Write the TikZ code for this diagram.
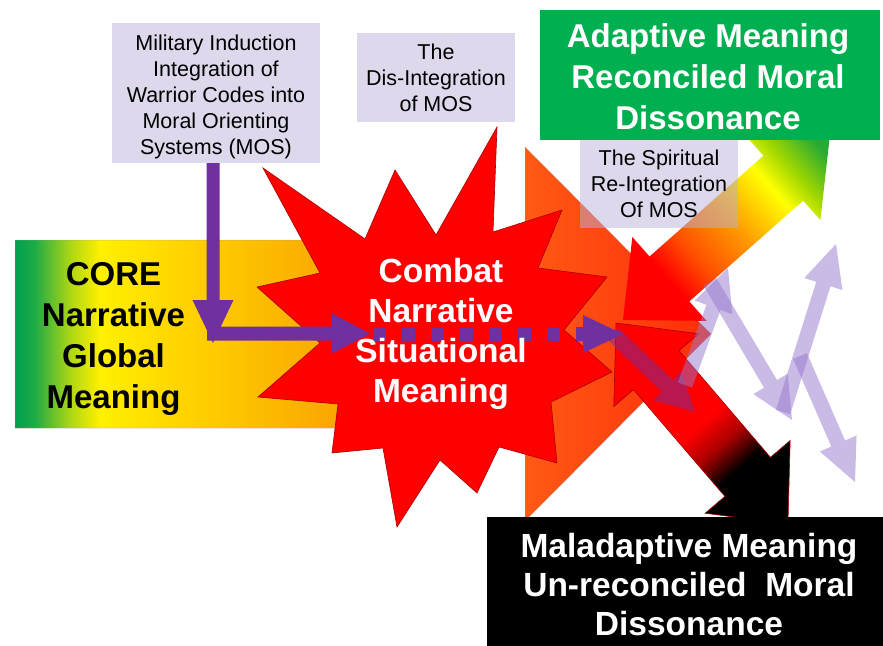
\documentclass[tikz,border=0pt]{standalone}
\usepackage{fontspec}
\setmainfont{Liberation Sans}
\usetikzlibrary{calc}

% palette
\definecolor{boxlav}{RGB}{221,216,235}
\definecolor{spirlav}{RGB}{187,177,215}
\definecolor{adgreen}{RGB}{0,176,80}
\definecolor{mospurple}{RGB}{112,48,160}
\definecolor{lavarrow}{RGB}{150,120,205}
\definecolor{starred}{RGB}{255,0,0}
\definecolor{staredge}{RGB}{170,0,0}

% stops of the core arrow (green -> yellow -> orange -> red)
\definecolor{cgA}{RGB}{0,160,80}
\definecolor{cgB}{RGB}{30,170,70}
\definecolor{cgC}{RGB}{175,215,20}
\definecolor{cgD}{RGB}{255,240,0}
\definecolor{cgE}{RGB}{255,212,0}
\definecolor{cgF}{RGB}{250,168,0}
\definecolor{cgG}{RGB}{250,128,10}
\definecolor{cgH}{RGB}{255,90,20}
\definecolor{cgI}{RGB}{255,45,10}
% stops of the adaptive arrow (red -> yellow -> green)
\definecolor{adA}{RGB}{255,0,0}
\definecolor{adB}{RGB}{255,80,0}
\definecolor{adC}{RGB}{255,150,0}
\definecolor{adD}{RGB}{255,255,0}
\definecolor{adE}{RGB}{160,215,0}
\definecolor{adF}{RGB}{40,170,50}
% stops of the maladaptive arrow (red -> black)
\definecolor{mlA}{RGB}{255,0,0}
\definecolor{mlB}{RGB}{170,0,0}
\definecolor{mlC}{RGB}{0,0,0}

\pgfdeclarehorizontalshading{coreshade}{100bp}{color(0bp)=(cgA); color(25bp)=(cgA); color(26.4bp)=(cgB); color(29bp)=(cgC); color(31.1bp)=(cgD); color(36.9bp)=(cgE); color(47.6bp)=(cgF); color(57.7bp)=(cgG); color(61.6bp)=(cgH); color(75bp)=(cgI); color(100bp)=(cgI)}
\pgfdeclarehorizontalshading{adaptshade}{100bp}{color(0bp)=(adA); color(36bp)=(adA); color(42.5bp)=(adB); color(51bp)=(adC); color(61bp)=(adD); color(66bp)=(adE); color(72.5bp)=(adF); color(100bp)=(adF)}
\pgfdeclarehorizontalshading{malshade}{100bp}{color(0bp)=(mlA); color(50bp)=(mlA); color(55.5bp)=(mlB); color(61bp)=(mlC); color(100bp)=(mlC)}

% straight block arrow: style, tail, tip, shaft half width, head half width, head length
\newcommand\blkarrow[6]{%
  \path coordinate (ba-h) at ($(#3)!#6!(#2)$);
  \fill[#1] ($(#2)!#4!90:(#3)$) -- ($(ba-h)!#4!90:(#3)$) -- ($(ba-h)!#5!90:(#3)$)
    -- (#3) -- ($(ba-h)!#5!-90:(#3)$) -- ($(ba-h)!#4!-90:(#3)$) -- ($(#2)!#4!-90:(#3)$) -- cycle;}

\tikzset{
  lavbox/.style={fill=boxlav, inner sep=0pt},
  boxtext/.style={inner sep=0pt, align=center, text=black, font=\fontsize{21.5}{26}\selectfont},
  bigtext/.style={inner sep=0pt, align=center, font=\bfseries\fontsize{33}{41}\selectfont},
  lavpointer/.style={fill=lavarrow, fill opacity=0.5},
}

\begin{document}
\begin{tikzpicture}[x=1pt,y=-1pt]
\useasboundingbox (0,0) rectangle (883,645);
\begin{scope}
\clip (0,0) rectangle (883,645);

% core narrative arrow
\shadedraw[shading=coreshade, draw=black!40, draw opacity=0.5, line width=0.5pt]
  (15,240) -- (525,240) -- (525,147) -- (711,334) -- (525,521) -- (525,428) -- (15,428) -- cycle;

% combat starburst
\filldraw[fill=starred, draw=staredge, line width=0.6pt]
  (612,372) -- (551,402) -- (557,463) -- (499,447) -- (477,493) -- (440,460)
  -- (397,527) -- (383,448) -- (332,453) -- (338,404) -- (258,397) -- (320,343)
  -- (257,287) -- (320,273) -- (263,168) -- (365,239) -- (395,170) -- (436,235)
  -- (497,127) -- (493,232) -- (562,210) -- (538,268) -- (607,277) -- (564,330) -- cycle;

% adaptive (red -> green) double arrow
\begin{scope}[transform canvas={shift={(623,320)},rotate=41.5}]
  \shade[shading=adaptshade] (0,0) -- (62,-56) -- (62,-30) -- (214,-30) -- (214,-56)
    -- (276,0) -- (214,56) -- (214,30) -- (62,30) -- (62,56) -- cycle;
\end{scope}

% maladaptive (red -> black) double arrow
\begin{scope}[transform canvas={shift={(616,323)},rotate=-49.45}]
  \shadedraw[shading=malshade, draw=staredge, line width=0.6pt] (0,0) -- (62,-56) -- (62,-30)
    -- (202.5,-30) -- (202.5,-56) -- (264.5,0) -- (202.5,56) -- (202.5,30) -- (62,30) -- (62,56) -- cycle;
\end{scope}

% text boxes
\node[lavbox, minimum width=208pt, minimum height=140pt] (mil) at (216,93) {};
\node[boxtext] (milt) at (216,96.5)
  {Military Induction\\Integration of\\Warrior Codes into\\Moral Orienting\\Systems (MOS)};
\node[lavbox, minimum width=158pt, minimum height=89pt] (dis) at (436,77.5) {};
\node[boxtext] (dist) at (436,77.5) {The\\Dis-Integration\\of MOS};

% purple induction path
\coordinate (vtop) at (mil.south -| 213,0);
\coordinate (vtip) at (213,343);
\coordinate (htail) at (207,333.5);
\coordinate (htip) at (370,333.5);
\coordinate (dotA) at (373,334);
\coordinate (dotB) at (562,334);
\coordinate (ftail) at (576,334);
\coordinate (ftip) at (623,334);
\coordinate (pdA) at (613,334);
\coordinate (pdB) at (695,412);
\blkarrow{fill=mospurple}{vtop}{vtip}{6.5pt}{20.5pt}{43pt}
\blkarrow{fill=mospurple}{htail}{htip}{7pt}{20pt}{38pt}
\draw[mospurple, line width=13pt, dash pattern=on 13pt off 16pt] (dotA) -- (dotB);
\blkarrow{fill=mospurple, fill opacity=0.5}{pdA}{pdB}{8pt}{20pt}{38pt}
\blkarrow{fill=mospurple}{ftail}{ftip}{7pt}{19pt}{40pt}

% zigzag of light pointers
\coordinate (laA) at (685,385);
\coordinate (laB) at (728,268);
\coordinate (lbA) at (710,282);
\coordinate (lbB) at (792,420);
\coordinate (lcA) at (783,412);
\coordinate (lcB) at (836,244);
\coordinate (ldA) at (800,356);
\coordinate (ldB) at (855,482);
\blkarrow{lavpointer}{laA}{laB}{7.5pt}{20pt}{42pt}
\blkarrow{lavpointer}{lbA}{lbB}{7.5pt}{20pt}{42pt}
\blkarrow{lavpointer}{lcA}{lcB}{7.5pt}{20pt}{42pt}
\blkarrow{lavpointer}{ldA}{ldB}{7.5pt}{20pt}{42pt}

% spiritual re-integration box (see-through)
\node[lavbox, fill=spirlav, fill opacity=0.5, minimum width=158pt, minimum height=90pt] (spir) at (659,183) {};
\node[boxtext] (spirt) at (659,184) {The Spiritual\\Re-Integration\\Of MOS};

% outcome boxes
\node[fill=adgreen, text=white, bigtext, minimum width=340pt, minimum height=130pt] (adapt) at (710,75) {};
\node[bigtext, text=white] (adaptt) at (708,77) {Adaptive Meaning\\Reconciled Moral\\Dissonance};
\node[fill=black, minimum width=403pt, minimum height=135pt] (mal) at (688.5,584.5) {};
\node[bigtext, text=white, font=\bfseries\fontsize{33.5}{39}\selectfont] (malt) at (689,584.5)
  {Maladaptive Meaning\\Un-reconciled\ \ Moral\\Dissonance};

% arrow captions
\node[bigtext, text=black] (core) at (113.5,338.5) {CORE\\Narrative\\Global\\Meaning};
\node[bigtext, text=white, font=\bfseries\fontsize{33.5}{40}\selectfont] (combat) at (441,334)
  {Combat\\Narrative\\Situational\\Meaning};
\end{scope}
\end{tikzpicture}
\end{document}
